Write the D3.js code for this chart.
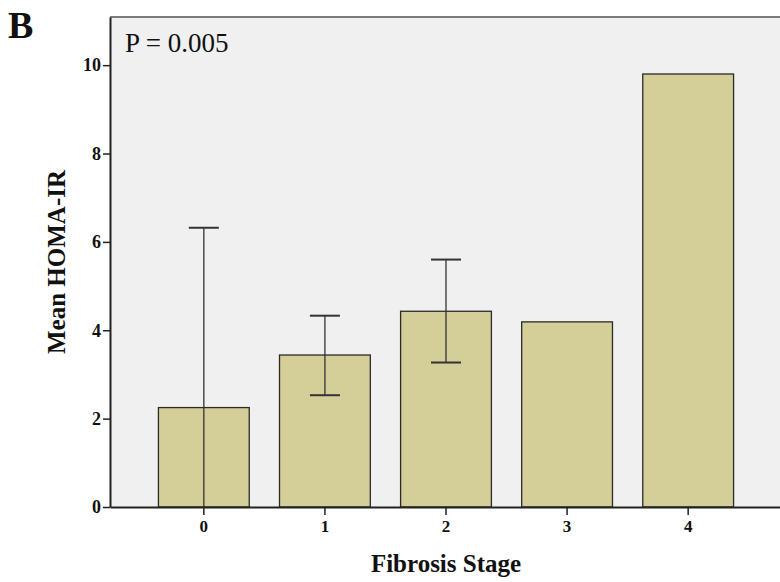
<!DOCTYPE html>
<html>
<head>
<meta charset="utf-8">
<script src="https://cdn.jsdelivr.net/npm/d3@7"></script>
<style>
  body { margin: 0; background: #fff; }
  text { font-family: "Liberation Serif", "Times New Roman", serif; }
</style>
</head>
<body>
<div id="chart"></div>
<script>
// ── Data ──
const stages   = ['0', '1', '2', '3', '4'];
const means    = [2.25, 3.44, 4.43, 4.19, 9.80];
const errLow   = [-1.8, 2.53, 3.27, null, null];
const errHigh  = [6.32, 4.33, 5.60, null, null];
const yTicks   = [0, 2, 4, 6, 8, 10];

const W = 780, H = 582;
const margin = { top: 17, right: -2, bottom: 75, left: 110 };
const width  = W - margin.left - margin.right;
const height = H - margin.top - margin.bottom;

const svg = d3.select('#chart').append('svg')
  .attr('width', W).attr('height', H);

const g = svg.append('g')
  .attr('transform', `translate(${margin.left},${margin.top})`);

const x = d3.scaleBand().domain(stages).range([0, width])
  .paddingInner(0.25).paddingOuter(0.4);
const y = d3.scaleLinear().domain([0, 11.09]).range([height, 0]);

// Plot background + frame
g.append('rect').attr('x', 0).attr('y', 0)
  .attr('width', width).attr('height', height)
  .attr('fill', '#f0f0f0');
g.append('line').attr('x1', 0).attr('x2', width).attr('y1', 0).attr('y2', 0)
  .attr('stroke', '#7a7a7a').attr('stroke-width', 2);

// Bars
g.selectAll('rect.bar').data(means).enter().append('rect')
  .attr('class', 'bar')
  .attr('x', (d, i) => x(stages[i]))
  .attr('y', d => y(d))
  .attr('width', x.bandwidth())
  .attr('height', d => height - y(d))
  .attr('fill', '#d4cf98')
  .attr('stroke', '#2a2a2a').attr('stroke-width', 1.3);

// Error bars (clipped at 0)
const capW = 30;
stages.forEach((s, i) => {
  if (errHigh[i] == null) return;
  const cx = x(s) + x.bandwidth() / 2;
  const lo = Math.max(0, errLow[i]);
  g.append('line').attr('x1', cx).attr('x2', cx)
    .attr('y1', y(errHigh[i])).attr('y2', y(lo))
    .attr('stroke', '#333').attr('stroke-width', 1.3);
  g.append('line').attr('x1', cx - capW / 2).attr('x2', cx + capW / 2)
    .attr('y1', y(errHigh[i])).attr('y2', y(errHigh[i]))
    .attr('stroke', '#333').attr('stroke-width', 2);
  if (errLow[i] >= 0) {
    g.append('line').attr('x1', cx - capW / 2).attr('x2', cx + capW / 2)
      .attr('y1', y(errLow[i])).attr('y2', y(errLow[i]))
      .attr('stroke', '#333').attr('stroke-width', 2);
  }
});

// Axes
const yAxis = g.append('g')
  .call(d3.axisLeft(y).tickValues(yTicks).tickSize(7).tickPadding(2).tickSizeOuter(0));
yAxis.select('.domain').attr('stroke', '#222').attr('stroke-width', 2);
yAxis.selectAll('line').attr('stroke', '#222').attr('stroke-width', 1.5);
yAxis.selectAll('text').attr('fill', '#111')
  .style('font-size', '18px').style('font-weight', 'bold')
  .style('font-family', '"Liberation Serif", serif');

const xAxis = g.append('g').attr('transform', `translate(0,${height})`)
  .call(d3.axisBottom(x).tickSize(8).tickPadding(5).tickSizeOuter(0));
xAxis.select('.domain').attr('stroke', '#222').attr('stroke-width', 2);
xAxis.selectAll('line').attr('stroke', '#222').attr('stroke-width', 1.5);
xAxis.selectAll('text').attr('fill', '#111')
  .style('font-size', '17px').style('font-weight', 'bold')
  .style('font-family', '"Liberation Serif", serif');

// Labels
svg.append('text').attr('x', 8).attr('y', 38)
  .attr('fill', '#111').style('font-size', '38px').style('font-weight', 'bold')
  .text('B');

svg.append('text').attr('x', 125).attr('y', 52)
  .attr('fill', '#111').style('font-size', '27px')
  .text('P = 0.005');

svg.append('text')
  .attr('transform', `translate(65,${margin.top + height / 2}) rotate(-90)`)
  .attr('text-anchor', 'middle')
  .attr('fill', '#111').style('font-size', '25px').style('font-weight', 'bold')
  .text('Mean HOMA-IR');

svg.append('text').attr('x', 446).attr('y', 572)
  .attr('text-anchor', 'middle')
  .attr('fill', '#111').style('font-size', '25px').style('font-weight', 'bold')
  .text('Fibrosis Stage');
</script>
</body>
</html>
